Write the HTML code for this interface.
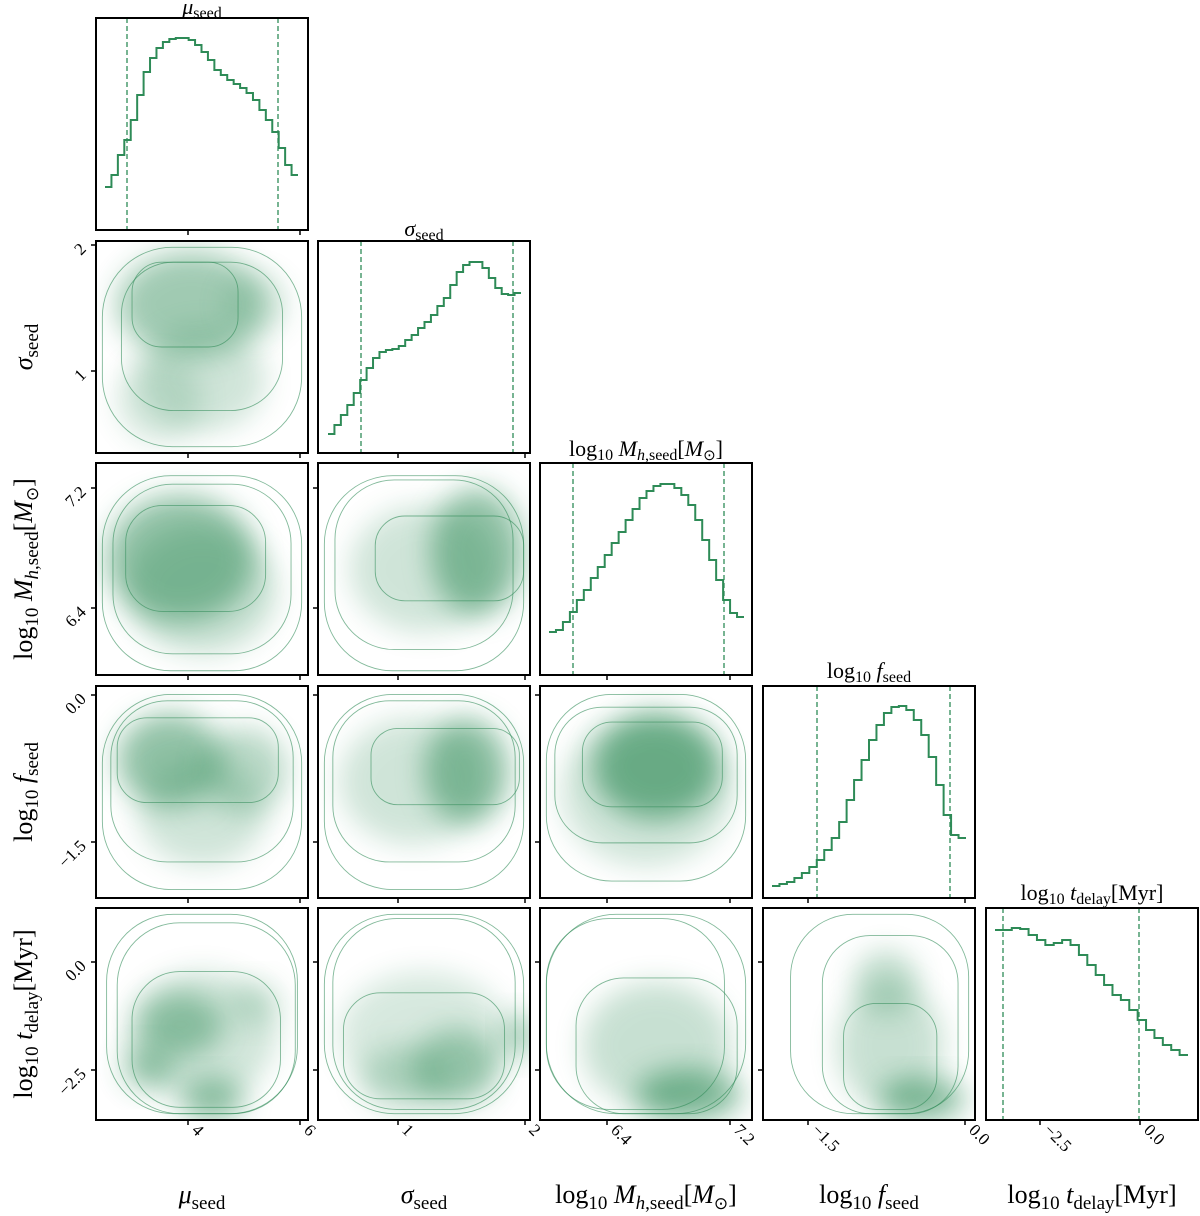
<!DOCTYPE html>
<html><head><meta charset="utf-8"><style>
body{margin:0;background:#fff;}
svg{display:block;font-family:"Liberation Serif",serif;}
</style></head><body>
<svg id="s" width="1200" height="1216" xmlns="http://www.w3.org/2000/svg">
<defs>
<filter id="b" x="-50%" y="-50%" width="200%" height="200%"><feGaussianBlur stdDeviation="14"/></filter>
</defs>
<g id="g"></g>
</svg>
<script>
const G=document.getElementById('g');
let h='';
const C='#2e8b57';
const X=[96,318,540,763,986], Y=[18,241,463,686,908], W=212;
function clip(i,j){return `<clipPath id="c${i}${j}"><rect x="${X[j]}" y="${Y[i]}" width="${W}" height="${W}"/></clipPath>`;}
function hist(i,x0,x1,ys,d1,d2){
 const n=ys.length,bw=(x1-x0)/n;let p=`M${x0},${ys[0]}`;
 for(let k=0;k<n;k++){p+=` L${x0+k*bw},${ys[k]} L${x0+(k+1)*bw},${ys[k]}`;}
 h+=`<path d="${p}" fill="none" stroke="${C}" stroke-width="2"/>`;
 [d1,d2].forEach(d=>h+=`<line x1="${d}" x2="${d}" y1="${Y[i]}" y2="${Y[i]+W}" stroke="${C}" stroke-width="1.3" stroke-dasharray="5,3"/>`);
}
hist(0,105,298,[187,175,155,140,120,95,72,58,48,42,39,38,38,40,45,52,60,70,75,80,84,88,93,100,110,120,132,148,165,175],127,278);
hist(1,328,521,[434,425,415,405,393,380,368,358,352,350,349,346,340,335,328,322,315,306,298,285,272,265,262,262,268,278,288,294,295,293],361,513);
hist(2,549,744,[632,630,622,612,600,590,578,567,555,543,532,520,509,498,491,486,484,484,488,495,505,520,540,560,580,600,613,617],573,724);
hist(3,772,966,[886,884,882,878,873,867,860,850,838,822,800,780,760,740,725,713,707,706,710,720,735,757,785,815,835,838],817,950);
hist(4,995,1188,[930,930,928,929,935,940,945,943,940,945,955,965,975,985,995,1000,1010,1020,1030,1038,1045,1050,1055],1003,1139);
const P={
'1,0':{b:[[.45,.3,.35,.25,.6],[.5,.65,.3,.25,.3],[.75,.3,.15,.15,.25],[.3,.75,.2,.2,.25]],c:[[.5,.5,.47,.47],[.5,.45,.38,.35],[.42,.3,.25,.2]]},
'2,0':{b:[[.4,.45,.35,.3,.7],[.5,.6,.35,.3,.35]],c:[[.5,.52,.47,.46],[.5,.5,.42,.4],[.47,.45,.33,.25]]},
'2,1':{b:[[.75,.42,.22,.3,.7],[.5,.5,.35,.3,.3]],c:[[.5,.52,.47,.46],[.5,.48,.42,.4],[.62,.45,.35,.2]]},
'3,0':{b:[[.35,.35,.25,.22,.7],[.7,.4,.2,.2,.45],[.5,.6,.3,.25,.3]],c:[[.5,.5,.47,.46],[.5,.45,.43,.38],[.48,.35,.38,.2]]},
'3,1':{b:[[.7,.4,.2,.25,.7],[.45,.45,.35,.3,.3]],c:[[.5,.5,.47,.46],[.5,.45,.43,.38],[.6,.38,.35,.18]]},
'3,2':{b:[[.55,.38,.3,.25,.85],[.5,.5,.4,.35,.3]],c:[[.5,.48,.47,.44],[.5,.42,.43,.32],[.53,.37,.33,.2]]},
'4,0':{b:[[.4,.55,.2,.15,.6],[.25,.75,.12,.1,.6],[.55,.9,.15,.1,.7],[.75,.45,.12,.1,.3],[.5,.6,.35,.3,.3]],c:[[.5,.5,.45,.47],[.52,.52,.42,.45],[.52,.62,.35,.32]]},
'4,1':{b:[[.65,.75,.2,.18,.55],[.95,.6,.08,.1,.6],[.4,.8,.2,.15,.35],[.5,.6,.4,.3,.25]],c:[[.5,.5,.47,.47],[.5,.5,.43,.45],[.5,.65,.38,.25]]},
'4,2':{b:[[.7,.88,.25,.12,.8],[.55,.65,.35,.3,.35]],c:[[.5,.5,.47,.47],[.45,.5,.42,.45],[.55,.65,.38,.32]]},
'4,3':{b:[[.75,.9,.2,.1,.8],[.58,.35,.15,.15,.4],[.6,.65,.25,.3,.35]],c:[[.55,.5,.42,.47],[.6,.55,.32,.42],[.6,.7,.22,.25]]}
};
for(const k in P){
 const [i,j]=k.split(',').map(Number),x0=X[j],y0=Y[i];
 h+=clip(i,j)+`<g clip-path="url(#c${i}${j})">`;
 P[k].b.forEach(b=>{h+=`<ellipse cx="${x0+b[0]*W}" cy="${y0+b[1]*W}" rx="${b[2]*W}" ry="${b[3]*W}" fill="${C}" opacity="${b[4]*0.75}" filter="url(#b)"/>`;});
 P[k].c.forEach(c=>{const rx=c[2]*W,ry=c[3]*W;h+=`<rect x="${x0+c[0]*W-rx}" y="${y0+c[1]*W-ry}" width="${2*rx}" height="${2*ry}" rx="${Math.min(rx,ry)*0.7}" fill="none" stroke="${C}" stroke-opacity="0.6" stroke-width="0.9"/>`;});
 h+='</g>';
}
for(let i=0;i<5;i++)for(let j=0;j<=i;j++)h+=`<rect x="${X[j]}" y="${Y[i]}" width="${W}" height="${W}" fill="none" stroke="#000" stroke-width="2"/>`;
function xt(j,xs,labs){xs.forEach((x,k)=>{for(let i=j;i<5;i++){const yb=Y[i]+W;h+=`<line x1="${x}" x2="${x}" y1="${yb}" y2="${yb+5}" stroke="#000" stroke-width="1.5"/>`;}
 const yb=Y[4]+W;h+=`<text transform="translate(${x+3},${yb+11}) rotate(45)" font-size="17" text-anchor="start">${labs[k]}</text>`;});}
xt(0,[188,300],['4','6']);
xt(1,[398,525],['1','2']);
xt(2,[607,730],['6.4','7.2']);
xt(3,[808,965],['\u22121.5','0.0']);
xt(4,[1040,1140],['\u22122.5','0.0']);
function yt(i,ys,labs){ys.forEach((y,k)=>{for(let j=0;j<i;j++){h+=`<line x1="${X[j]-5}" x2="${X[j]}" y1="${y}" y2="${y}" stroke="#000" stroke-width="1.5"/>`;}
 h+=`<text transform="translate(${X[0]-9},${y+5}) rotate(-45)" font-size="17" text-anchor="end">${labs[k]}</text>`;});}
yt(1,[245,371],['2','1']);
yt(2,[488,608],['7.2','6.4']);
yt(3,[695,842],['0.0','\u22121.5']);
yt(4,[962,1070],['0.0','\u22122.5']);
h+=`<text x="202" y="14" font-size="22" text-anchor="middle"><tspan font-style="italic">μ</tspan><tspan font-size="16" dy="4">seed</tspan></text>`;
h+=`<text x="424" y="236" font-size="22" text-anchor="middle"><tspan font-style="italic">σ</tspan><tspan font-size="16" dy="4">seed</tspan></text>`;
h+=`<text x="646" y="456" font-size="22" text-anchor="middle">log<tspan font-size="16" dy="4">10</tspan><tspan dy="-4" font-style="italic"> M</tspan><tspan font-size="16" dy="4"><tspan font-style="italic">h</tspan>,seed</tspan><tspan dy="-4">[</tspan><tspan font-style="italic">M</tspan><tspan font-size="15" dy="4">⊙</tspan><tspan dy="-4">]</tspan></text>`;
h+=`<text x="869" y="678" font-size="22" text-anchor="middle">log<tspan font-size="16" dy="4">10</tspan><tspan dy="-4" font-style="italic"> f</tspan><tspan font-size="16" dy="4">seed</tspan></text>`;
h+=`<text x="1092" y="900" font-size="22" text-anchor="middle">log<tspan font-size="16" dy="4">10</tspan><tspan dy="-4" font-style="italic"> t</tspan><tspan font-size="16" dy="4">delay</tspan><tspan dy="-4">[Myr]</tspan></text>`;
const XL=[
`<tspan font-style="italic">μ</tspan><tspan font-size="19" dy="6">seed</tspan>`,
`<tspan font-style="italic">σ</tspan><tspan font-size="19" dy="6">seed</tspan>`,
`log<tspan font-size="19" dy="6">10</tspan><tspan dy="-6" font-style="italic"> M</tspan><tspan font-size="19" dy="6"><tspan font-style="italic">h</tspan>,seed</tspan><tspan dy="-6">[</tspan><tspan font-style="italic">M</tspan><tspan font-size="17" dy="6">⊙</tspan><tspan dy="-6">]</tspan>`,
`log<tspan font-size="19" dy="6">10</tspan><tspan dy="-6" font-style="italic"> f</tspan><tspan font-size="19" dy="6">seed</tspan>`,
`log<tspan font-size="19" dy="6">10</tspan><tspan dy="-6" font-style="italic"> t</tspan><tspan font-size="19" dy="6">delay</tspan><tspan dy="-6">[Myr]</tspan>`];
XL.forEach((t,j)=>h+=`<text x="${X[j]+106}" y="1203" font-size="26" text-anchor="middle">${t}</text>`);
[XL[1],XL[2],XL[3],XL[4]].forEach((t,k)=>{const i=k+1;h+=`<text transform="translate(32,${Y[i]+106}) rotate(-90)" font-size="26" text-anchor="middle">${t}</text>`;});
G.innerHTML=h;
</script>
</body></html>
